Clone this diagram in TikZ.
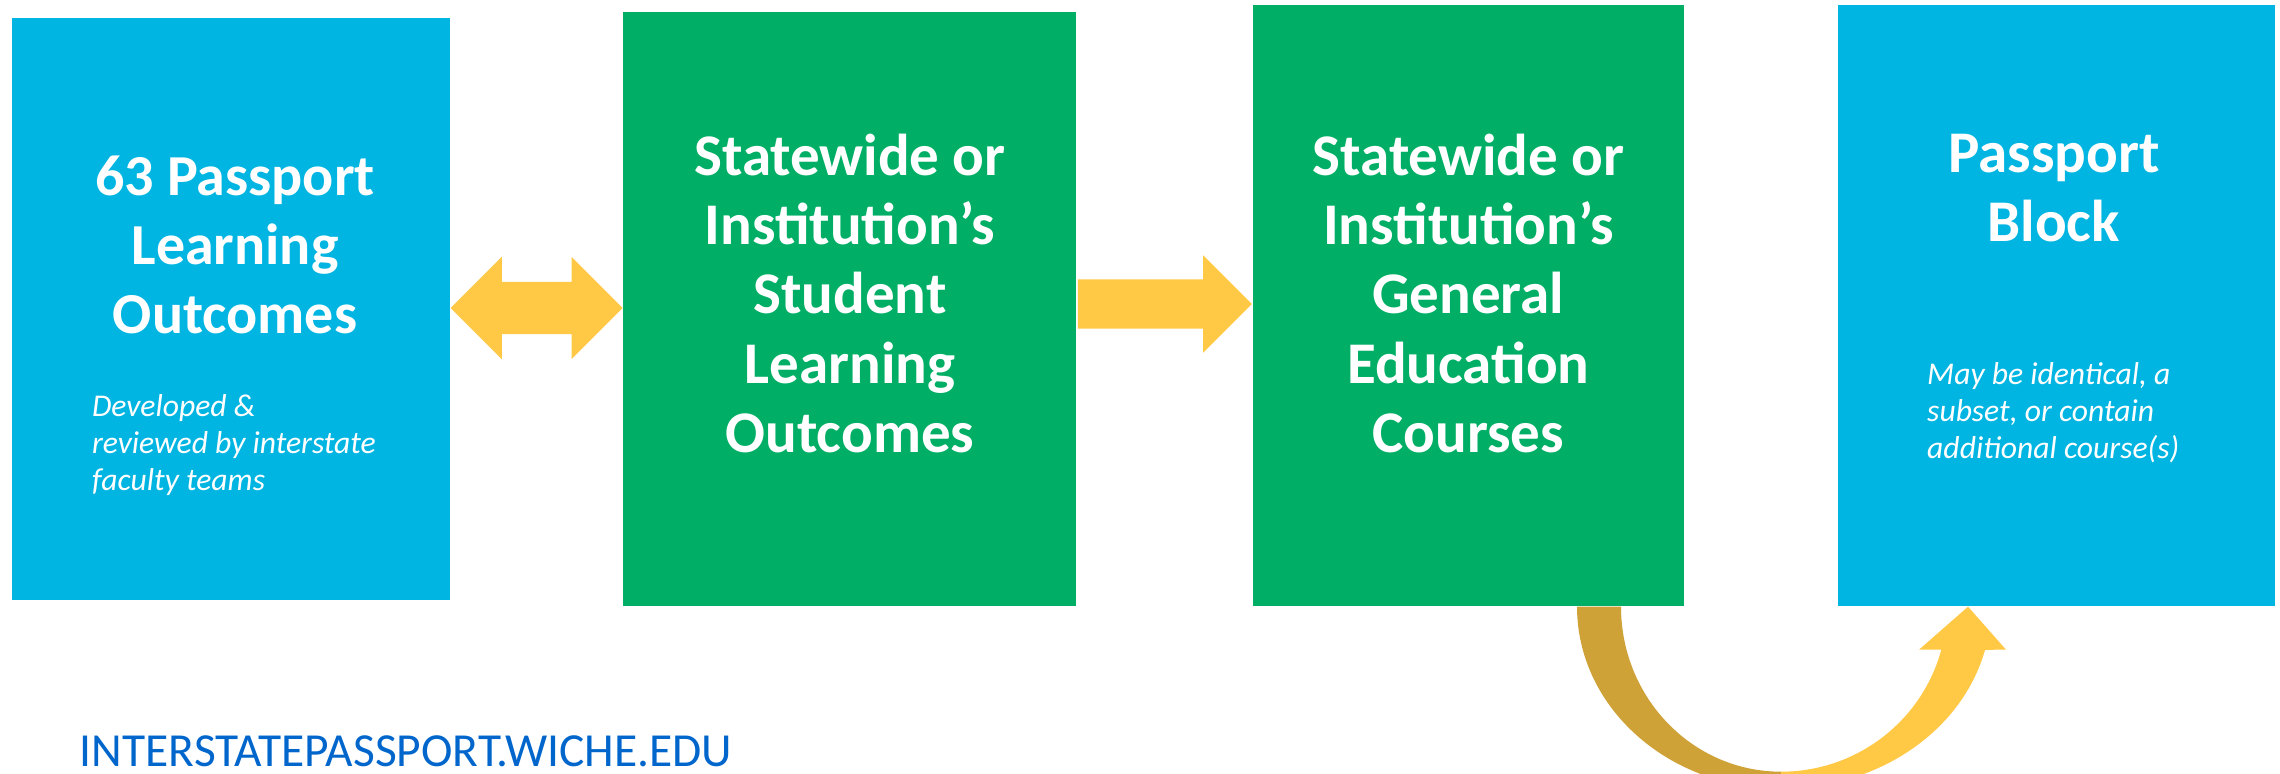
\documentclass[tikz,border=0pt]{standalone}
\usepackage{fontspec}
\setmainfont{Carlito}
\usetikzlibrary{positioning,calc,shapes.arrows}
\definecolor{passblue}{RGB}{0,181,226}
\definecolor{passgreen}{RGB}{0,174,101}
\definecolor{arrowgold}{RGB}{255,200,69}
\definecolor{arrowdark}{RGB}{207,162,56}
\definecolor{urlblue}{RGB}{0,102,204}

\begin{document}
\begin{tikzpicture}[
    box/.style={rectangle, inner sep=0pt},
    title/.style={text=white, align=center, inner sep=0pt, font=\bfseries\fontsize{16.8}{19.7}\selectfont},
    note/.style={text=white, align=left, inner sep=0pt, font=\itshape\fontsize{9}{10.5}\selectfont},
    flow/.style={fill=arrowgold, inner sep=0pt}
  ]
  \useasboundingbox (0,0) rectangle (22.80,7.74);
  \clip (0,0) rectangle (22.80,7.74);

  % Boxes
  \node [box, fill=passblue, minimum width=4.38cm, minimum height=5.82cm] (plo) at (2.31,4.65) {};
  \node [box, fill=passgreen, minimum width=4.53cm, minimum height=5.94cm, right=1.72cm of plo] (slo) {};
  \node [box, fill=passgreen, minimum width=4.31cm, minimum height=6.01cm, right=1.75cm of slo, yshift=0.035cm] (gec) {};
  \node [box, fill=passblue, minimum width=4.37cm, minimum height=6.01cm, right=1.53cm of gec] (blk) {};

  % Titles
  \node [title, font=\bfseries\fontsize{16.5}{19.6}\selectfont, below=1.38cm of plo.north, xshift=0.04cm] (plot) {63 Passport\\Learning\\Outcomes};
  \node [title, below=1.22cm of slo.north] (slot) {Statewide or\\Institution’s\\Student\\Learning\\Outcomes};
  \node [title, below=1.29cm of gec.north] (gect) {Statewide or\\Institution’s\\General\\Education\\Courses};
  \node [title, below=1.29cm of blk.north, xshift=-0.03cm] (blkt) {Passport\\Block};

  % Notes
  \node [note, below right=3.77cm and 0.80cm of plo.north west] (plon) {Developed \&\\reviewed by interstate\\faculty teams};
  \node [note, below right=3.58cm and 0.89cm of blk.north west] (blkn) {May be identical, a\\subset, or contain\\additional course(s)};

  % Arrows between boxes
  \node [flow, double arrow, double arrow head extend=0.25cm, inner ysep=0.255cm, minimum height=1.72cm] (link) at ($(plo.east)!0.5!(slo.west)+(0,0.01)$) {};
  \node [flow, single arrow, single arrow head extend=0.24cm, inner ysep=0.24cm, minimum height=1.74cm, anchor=tail] (feed) at ($(slo.east)+(0,0.05)$) {};

  % Curved arrow under the boxes
  \coordinate (turn) at ($(gec.south east)!0.5!(blk.south west)+(0.20,0)$);
  \fill [arrowdark] ($(turn)+(-2.04,0)$) arc [start angle=180, end angle=270, x radius=2.04cm, y radius=1.82cm]
    -- ($(turn)+(0,-1.65)$) arc [start angle=270, end angle=180, x radius=1.60cm, y radius=1.65cm] -- cycle;
  \fill [arrowgold] ($(turn)+(0,-1.82)$) arc [start angle=270, end angle=346.3, x radius=2.10cm, y radius=1.82cm]
    -- ($(turn)+(2.25,-0.43)$) -- ($(turn)+(1.87,0)$) -- ($(turn)+(1.38,-0.43)$)
    -- ($(turn)+(1.603,-0.43)$) arc [start angle=344.9, end angle=270, x radius=1.66cm, y radius=1.65cm] -- cycle;

  % Web address
  \node [anchor=base west, inner sep=0pt, text depth=0pt, text=urlblue, font=\fontsize{13.5}{15}\selectfont] (site) at ($(plo.south west)+(0.68,-1.66)$) {INTERSTATEPASSPORT.WICHE.EDU};
\end{tikzpicture}
\end{document}
